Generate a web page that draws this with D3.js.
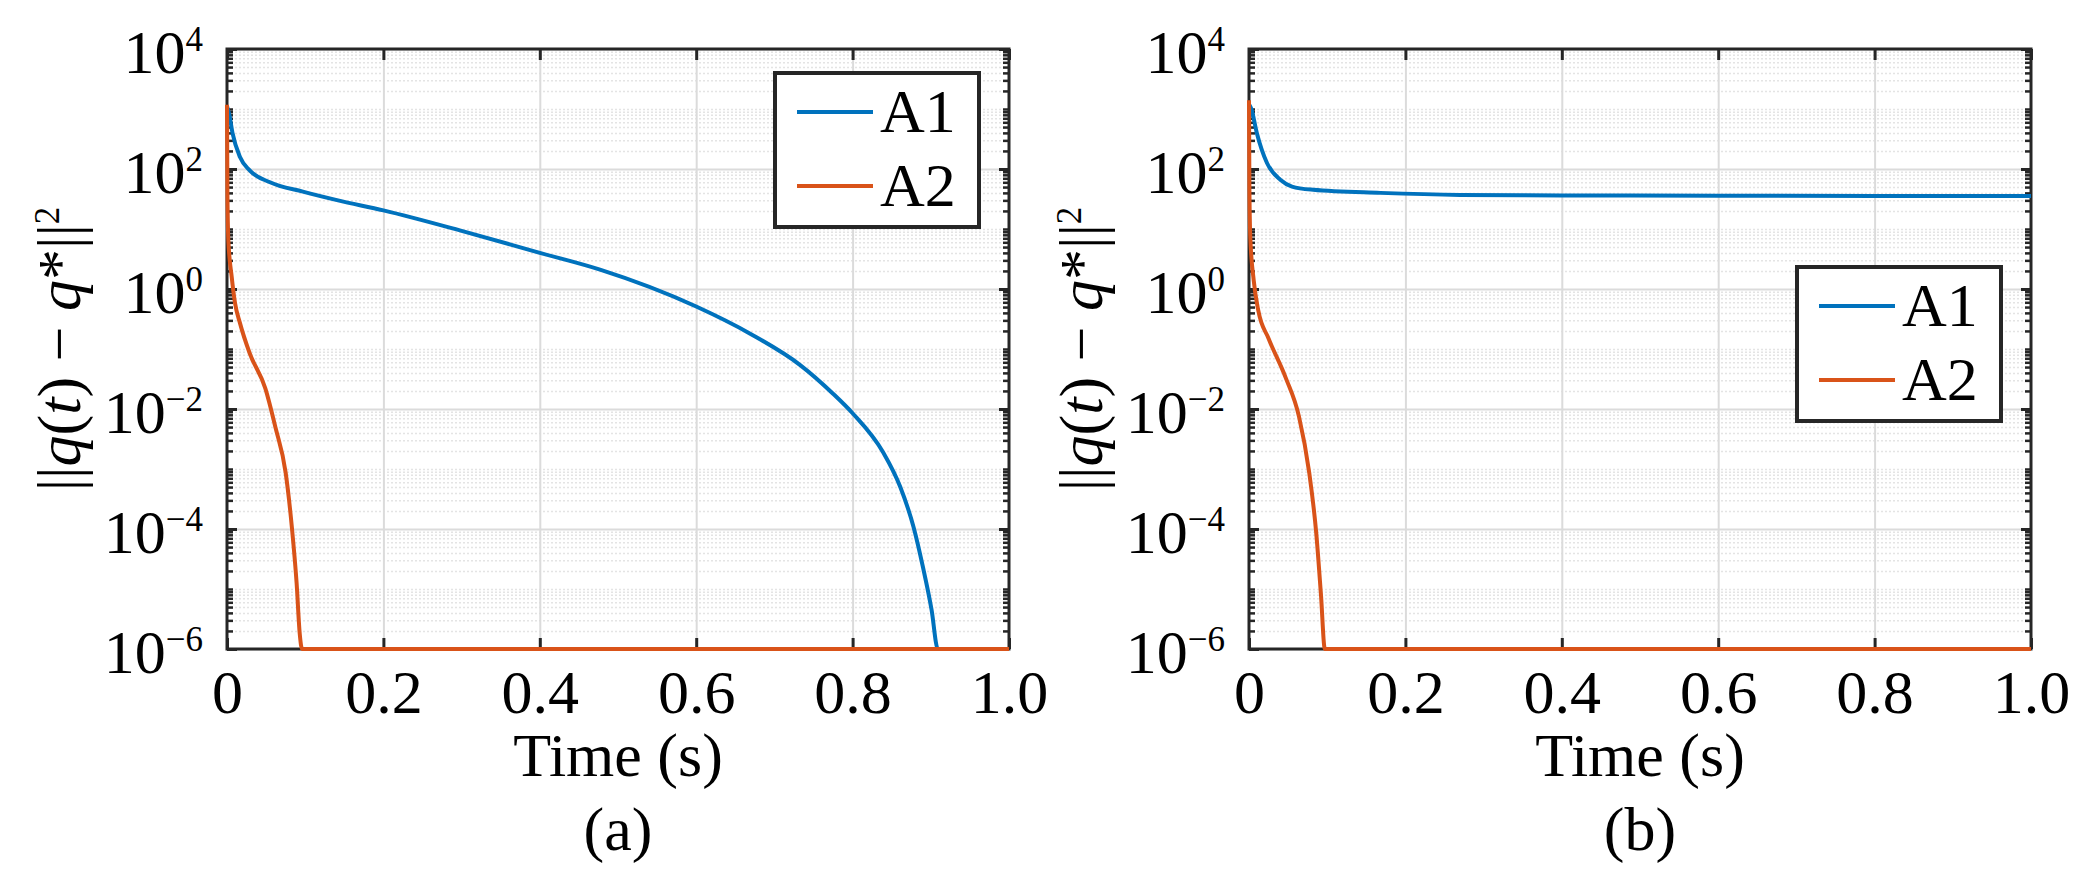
<!DOCTYPE html>
<meta charset="utf-8">
<style>
body { margin: 0; background: #fff; }
text { font-family: "Liberation Serif", "Times New Roman", serif; fill: #000; }
.grid-minor line { stroke: #e4e4e4; stroke-width: 1.5; stroke-dasharray: 2,2; }
.grid-major line { stroke: #dbdbdb; stroke-width: 2; }
.ticks line { stroke: #262626; stroke-width: 3; }
.ticks.minor line { stroke-width: 2.5; }
.ticks text { font-size: 62px; }
.box { fill: none; stroke: #262626; stroke-width: 3; }
.series { fill: none; stroke-width: 4; stroke-linejoin: round; stroke-linecap: butt; }
.legend rect { fill: #fff; stroke: #262626; stroke-width: 4; }
</style>
<body></body>
<script src="https://d3js.org/d3.v7.min.js"></script>
<script>

// tick labels
var xTicks = [0, 0.2, 0.4, 0.6, 0.8, 1.0];
var xTickLabels = ["0", "0.2", "0.4", "0.6", "0.8", "1.0"];
var yMajorExp = [-6, -4, -2, 0, 2, 4];
var seriesNames = ["A1", "A2"];
var seriesColors = ["#0072BD", "#D95319"];

// panel (a), values
var tA1a = [0, 0.003, 0.007, 0.0166, 0.029, 0.055, 0.097, 0.142, 0.2, 0.3, 0.4, 0.477, 0.6, 0.669, 0.733, 0.775, 0.8, 0.839, 0.861, 0.878, 0.89, 0.901, 0.909, 1.0];
var vA1a = [1120, 790, 400, 158, 95, 60, 42, 30, 20.4, 9.3, 4.0, 2.1, 0.51, 0.18, 0.054, 0.018, 0.0085, 0.0019, 5.0e-4, 1.07e-4, 2.3e-5, 4.5e-6, 1e-6, 1e-6];
var tA2a = [0, 0.0005, 0.0017, 0.006, 0.0102, 0.0166, 0.029, 0.049, 0.062, 0.075, 0.083, 0.089, 0.093, 0.096, 1.0];
var vA2a = [1175, 45, 6.6, 1.6, 0.59, 0.27, 0.085, 0.022, 0.0049, 8.7e-4, 1.05e-4, 1.26e-5, 1.8e-6, 1e-6, 1e-6];

// panel (b)
var tA1b = [0, 0.003, 0.01, 0.023, 0.04, 0.055, 0.082, 0.168, 0.27, 0.4, 0.6, 1.0];
var vA1b = [1200, 1000, 400, 126, 66, 51, 45, 40, 37, 36.3, 35.9, 35.5];
var tA2b = [0, 0.0005, 0.0017, 0.006, 0.012, 0.025, 0.047, 0.064, 0.077, 0.086, 0.092, 0.097, 1.0];
var vA2b = [1400, 50, 7, 1.4, 0.43, 0.15, 0.033, 0.0074, 8.7e-4, 8.5e-5, 8.1e-6, 1e-6, 1e-6];

var W = 2079, H = 871;
var plotTop = 49, plotBottom = 649;

var panels = [
  {left: 227, right: 1009, label: "(a)", a1: [tA1a, vA1a], a2: [tA2a, vA2a], legend: [775, 73]},
  {left: 1249, right: 2031, label: "(b)", a1: [tA1b, vA1b], a2: [tA2b, vA2b], legend: [1797, 267]}
];

var svg = d3.select("body").append("svg")
    .attr("width", W)
    .attr("height", H);

function zip(ts, vs) {
  return ts.map(function(t, i) { return {t: t, v: vs[i]}; });
}

function supLabel(sel, exp) {
  sel.text(null);
  sel.append("tspan").text("10");
  sel.append("tspan")
      .attr("font-size", "35px")
      .attr("dy", -22)
      .text(exp < 0 ? "\u2212" + (-exp) : exp);
}

panels.forEach(function(p) {
  var w = p.right - p.left, h = plotBottom - plotTop;
  var x = d3.scaleLinear().domain([0, 1]).range([0, w]);
  var y = d3.scaleLog().domain([1e-6, 1e4]).range([h, 0]);
  var majors = yMajorExp.map(function(e) { return Math.pow(10, e); });
  var minors = y.ticks(20).filter(function(v) {
    var e = Math.round(Math.log10(v));
    return !(Math.abs(v - Math.pow(10, e)) < 1e-9 * v && e % 2 === 0);
  });

  var g = svg.append("g").attr("transform", "translate(" + p.left + "," + plotTop + ")");

  // grid
  g.append("g").attr("class", "grid-minor")
      .call(d3.axisLeft(y).tickValues(minors).tickSize(-w).tickFormat(""))
      .call(function(s) { s.select(".domain").remove(); });
  g.append("g").attr("class", "grid-major")
      .call(d3.axisLeft(y).tickValues(majors).tickSize(-w).tickFormat(""))
      .call(function(s) { s.select(".domain").remove(); });
  g.append("g").attr("class", "grid-major")
      .attr("transform", "translate(0," + h + ")")
      .call(d3.axisBottom(x).tickValues([0.2, 0.4, 0.6, 0.8]).tickSize(-h).tickFormat(""))
      .call(function(s) { s.select(".domain").remove(); });

  // box
  g.append("rect").attr("class", "box").attr("width", w).attr("height", h);

  // x ticks
  g.append("g").attr("class", "ticks")
      .attr("transform", "translate(0," + h + ")")
      .call(d3.axisBottom(x).tickValues(xTicks).tickSize(-11).tickPadding(0)
            .tickFormat(function(d, i) { return xTickLabels[i]; }))
      .call(function(s) {
        s.select(".domain").remove();
        s.selectAll("text").attr("y", 64).attr("dy", null);
      });
  g.append("g").attr("class", "ticks")
      .call(d3.axisTop(x).tickValues(xTicks).tickSize(-11).tickFormat(""))
      .call(function(s) { s.select(".domain").remove(); });

  // y ticks
  g.append("g").attr("class", "ticks")
      .call(d3.axisLeft(y).tickValues(majors).tickSize(-10).tickPadding(24))
      .call(function(s) {
        s.select(".domain").remove();
        s.selectAll("text").attr("dy", "23px").each(function(d) {
          supLabel(d3.select(this), Math.round(Math.log10(d)));
        });
      });
  g.append("g").attr("class", "ticks")
      .attr("transform", "translate(" + w + ",0)")
      .call(d3.axisRight(y).tickValues(majors).tickSize(-10).tickFormat(""))
      .call(function(s) { s.select(".domain").remove(); });
  g.append("g").attr("class", "ticks minor")
      .call(d3.axisLeft(y).tickValues(minors).tickSize(-6).tickFormat(""))
      .call(function(s) { s.select(".domain").remove(); });
  g.append("g").attr("class", "ticks minor")
      .attr("transform", "translate(" + w + ",0)")
      .call(d3.axisRight(y).tickValues(minors).tickSize(-6).tickFormat(""))
      .call(function(s) { s.select(".domain").remove(); });

  // lines
  var line = d3.line()
      .x(function(d) { return x(d.t); })
      .y(function(d) { return y(d.v); })
      .curve(d3.curveMonotoneX);
  [p.a1, p.a2].forEach(function(s, i) {
    g.append("path")
        .datum(zip(s[0], s[1]))
        .attr("class", "series")
        .attr("stroke", seriesColors[i])
        .attr("d", line);
  });

  // axis labels
  var yl = g.append("text")
      .attr("transform", "translate(-147," + (h / 2) + ") rotate(-90)")
      .attr("text-anchor", "middle")
      .attr("font-size", "62px");
  yl.append("tspan").text("||");
  yl.append("tspan").attr("font-style", "italic").text("q");
  yl.append("tspan").text("(");
  yl.append("tspan").attr("font-style", "italic").text("t");
  yl.append("tspan").text(") \u2212 ");
  yl.append("tspan").attr("font-style", "italic").text("q");
  yl.append("tspan").text("*||");
  yl.append("tspan").attr("font-size", "35px").attr("dy", -21).text("2");

  g.append("text")
      .attr("x", w / 2)
      .attr("y", 776 - plotTop)
      .attr("text-anchor", "middle")
      .attr("font-size", "62px")
      .text("Time (s)");
  g.append("text")
      .attr("x", w / 2)
      .attr("y", 850 - plotTop)
      .attr("text-anchor", "middle")
      .attr("font-size", "62px")
      .text(p.label);

  // legend
  var lg = svg.append("g").attr("class", "legend")
      .attr("transform", "translate(" + p.legend[0] + "," + p.legend[1] + ")");
  lg.append("rect").attr("width", 204).attr("height", 154);
  seriesNames.forEach(function(name, i) {
    var ly = 39 + i * 74;
    lg.append("line")
        .attr("x1", 22).attr("x2", 98)
        .attr("y1", ly).attr("y2", ly)
        .attr("stroke", seriesColors[i])
        .attr("stroke-width", 4);
    lg.append("text")
        .attr("x", 105)
        .attr("y", ly + 20)
        .attr("font-size", "62px")
        .text(name);
  });
});

</script>
